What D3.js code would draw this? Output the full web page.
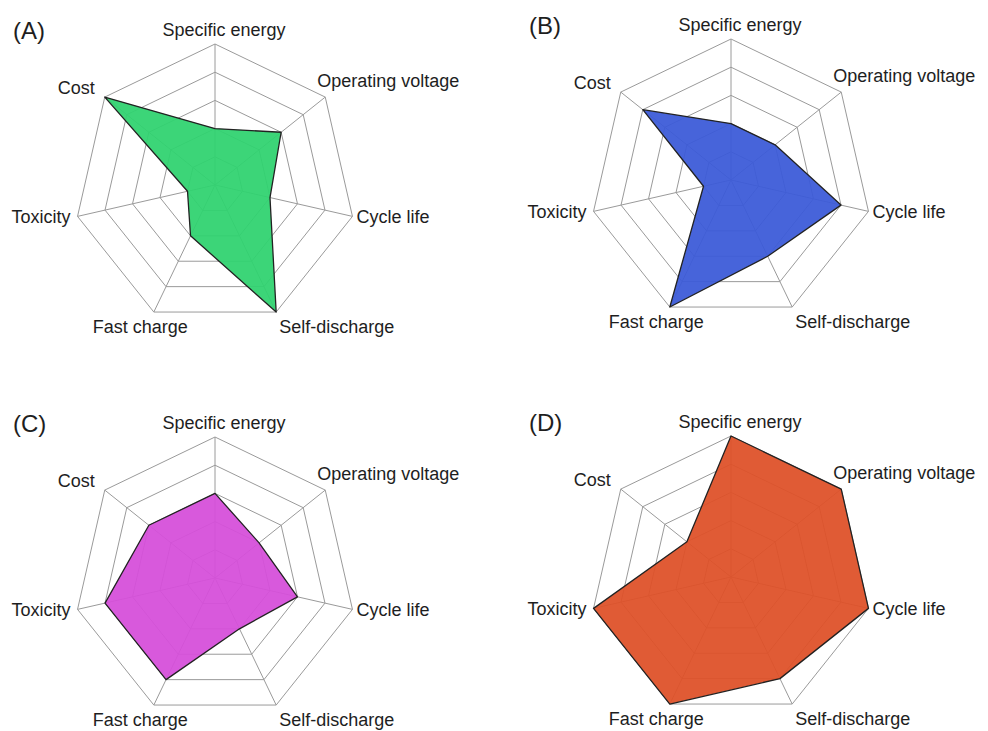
<!DOCTYPE html>
<html>
<head>
<meta charset="utf-8">
<script src="https://cdn.jsdelivr.net/npm/d3@7"></script>
<style>
  html, body { margin: 0; padding: 0; background: #fff; }
  svg { display: block; }
  text { font-family: "Liberation Sans", Arial, sans-serif; fill: #1e1e1e; }
</style>
</head>
<body>
<svg id="chart" width="988" height="731"></svg>
<script>
// Battery chemistry comparison: seven criteria scored on a 0–5 scale
const axes = ["Specific energy", "Operating voltage", "Cycle life", "Self-discharge", "Fast charge", "Toxicity", "Cost"];
const panelNames = ["(A)", "(B)", "(C)", "(D)"];
const levels = [1, 2, 3, 4, 5];
const valuesA = [2, 3, 2, 5, 2, 1, 5];
const valuesB = [2, 2, 4, 3, 5, 1, 4];
const valuesC = [3, 2, 3, 2, 4, 4, 3];
const valuesD = [5, 5, 5, 4, 5, 5, 2];
const fillColors = ["#30d270", "#3c5ad8", "#d64fda", "#de5128"];

const series = [valuesA, valuesB, valuesC, valuesD];

// panel layout
const panels = [
  { cx: 215, cy: 185 },
  { cx: 731, cy: 180 },
  { cx: 215, cy: 578 },
  { cx: 731, cy: 577 }
];
const R = 141;

// axis label placement relative to each outer vertex
const labelPos = [
  { dx: 9,  dy: -8, anchor: "middle" },
  { dx: -8, dy: -10, anchor: "start" },
  { dx: 4,  dy: 7,  anchor: "start" },
  { dx: 3,  dy: 21, anchor: "start" },
  { dx: 34, dy: 21, anchor: "end" },
  { dx: -7, dy: 7,  anchor: "end" },
  { dx: -10, dy: -3, anchor: "end" }
];

const svg = d3.select("#chart");
const n = axes.length;
const angle = d3.scaleLinear().domain([0, n]).range([0, 2 * Math.PI]);
const r = d3.scaleLinear().domain([0, 5]).range([0, R]);

const point = (i, v) => {
  const a = angle(i) - Math.PI / 2;
  return [Math.cos(a) * r(v), Math.sin(a) * r(v)];
};

const radial = d3.lineRadial()
  .angle((d, i) => angle(i))
  .radius(d => r(d))
  .curve(d3.curveLinearClosed);

panels.forEach((p, k) => {
  const g = svg.append("g").attr("transform", `translate(${p.cx},${p.cy})`);

  // grid rings
  g.selectAll("path.ring")
    .data(levels)
    .join("path")
    .attr("class", "ring")
    .attr("d", lv => radial(axes.map(() => lv)))
    .attr("fill", "none")
    .attr("stroke", "#9a9a9a")
    .attr("stroke-width", 1);

  // spokes
  g.selectAll("line.spoke")
    .data(axes)
    .join("line")
    .attr("class", "spoke")
    .attr("x1", 0).attr("y1", 0)
    .attr("x2", (d, i) => point(i, 5)[0])
    .attr("y2", (d, i) => point(i, 5)[1])
    .attr("stroke", "#9a9a9a")
    .attr("stroke-width", 1);

  // data polygon
  g.append("path")
    .attr("d", radial(series[k]))
    .attr("fill", fillColors[k])
    .attr("fill-opacity", 0.94)
    .attr("stroke", "#222")
    .attr("stroke-width", 1.3)
    .attr("stroke-linejoin", "round");

  // axis labels
  g.selectAll("text.axis")
    .data(axes)
    .join("text")
    .attr("class", "axis")
    .attr("x", (d, i) => point(i, 5)[0] + labelPos[i].dx)
    .attr("y", (d, i) => point(i, 5)[1] + labelPos[i].dy)
    .attr("text-anchor", (d, i) => labelPos[i].anchor)
    .style("font-size", "18px")
    .text(d => d);

  // panel tag
  g.append("text")
    .attr("x", -202)
    .attr("y", -146)
    .style("font-size", "24px")
    .text(panelNames[k]);
});
</script>
</body>
</html>
